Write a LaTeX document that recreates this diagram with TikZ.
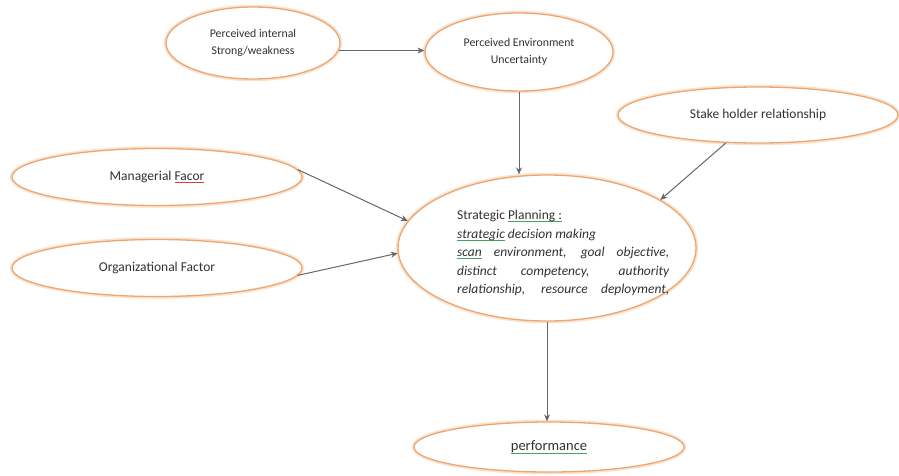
\documentclass[tikz,border=0pt]{standalone}
\usepackage{fontspec}
\setmainfont{Carlito}
\usetikzlibrary{shapes.geometric,arrows.meta}

\definecolor{rimorange}{RGB}{236,166,116}
\definecolor{rimglow}{RGB}{251,226,204}
\definecolor{linkgray}{RGB}{100,104,110}
\definecolor{inkgray}{RGB}{50,50,50}
\definecolor{grammargreen}{RGB}{70,165,90}
\definecolor{spellred}{RGB}{225,60,60}

% underline a word with a coloured proofing mark
\newcommand\markline[2]{{\setbox0\hbox{#2}\rlap{\color{#1}\rule[-2.6pt]{\wd0}{0.7pt}}\box0}}

\tikzset{
  bubble/.style={ellipse, draw=rimorange, line width=1.3pt, inner sep=0pt, fill=white,
    preaction={draw=rimglow, line width=4.5pt}, text=inkgray, align=center},
  link/.style={draw=linkgray, line width=1pt, -{Stealth[length=7pt,width=6pt]}},
  smalltext/.style={font=\fontsize{11.8}{17}\selectfont},
  bigtext/.style={font=\fontsize{13.5}{18}\selectfont},
}

\begin{document}
\begin{tikzpicture}[x=1pt,y=-1pt]
\useasboundingbox[fill=white] (0,0) rectangle (899,475);

% ellipses
\node[bubble, smalltext, minimum width=174pt, minimum height=72pt] (intern) at (253,43)
  {Perceived internal\\Strong/weakness};
\node[bubble, smalltext, minimum width=188pt, minimum height=78pt] (envir) at (519,52)
  {Perceived Environment\\Uncertainty};
\node[bubble, bigtext, minimum width=280pt, minimum height=56pt] (stake) at (758,115)
  {Stake holder relationship};
\node[bubble, bigtext, minimum width=290pt, minimum height=57pt] (mgr) at (157,177)
  {Managerial \markline{spellred}{Facor}};
\node[bubble, bigtext, minimum width=290pt, minimum height=57pt] (org) at (157,268)
  {Organizational Factor};
\node[bubble, minimum width=298pt, minimum height=146pt] (strat) at (547,248) {};
\node[bubble, font=\fontsize{14.5}{18}\selectfont, minimum width=270pt, minimum height=50pt] (perf) at (549,447)
  {\markline{grammargreen}{performance}};

% text of the central ellipse
\node[anchor=north west, inner sep=0pt, text=inkgray, align=left,
      font=\fontsize{13.5}{18.5}\selectfont] (stratText) at (457,210)
  {Strategic \markline{grammargreen}{Planning :}\\
   \itshape \markline{grammargreen}{strategic} decision making\\
   \makebox[212pt][s]{\itshape \markline{grammargreen}{scan} environment, goal objective,}\\
   \makebox[212pt][s]{\itshape distinct competency, authority}\\
   \makebox[212pt][s]{\itshape relationship, resource deployment,}};

% connectors
\draw[link] (intern.-5) -- (envir.west |- intern.-5);
\draw[link] (envir.south) -- (envir.south |- strat.north);
\draw[link] (stake.-139) -- (strat.23);
\draw[link] (mgr.3) -- (strat.169);
\draw[link] (org.-3) -- (strat.182);
\draw[link] (strat.south) -- (strat.south |- perf.north);
\end{tikzpicture}
\end{document}
